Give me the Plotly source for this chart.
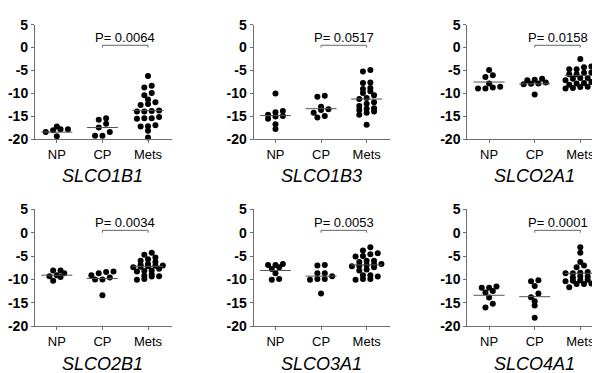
import plotly.graph_objects as go

groups = ["NP", "CP", "Mets"]
genes = ["SLCO1B1", "SLCO1B3", "SLCO2A1", "SLCO2B1", "SLCO3A1", "SLCO4A1"]
p_values = ["P= 0.0064", "P= 0.0517", "P= 0.0158", "P= 0.0034", "P= 0.0053", "P= 0.0001"]

# ---- values ----
slco1b1_np = [-17.8, -18.0, -17.8, -17.2, -18.4, -19.3]
slco1b1_cp = [-16.6, -15.7, -15.4, -17.4, -18.4, -19.2, -19.2]
slco1b1_mets = [-6.2, -8.7, -8.3, -10.4, -9.9, -11.3, -12.5, -11.9, -12.3, -13.7, -13.9,
                -13.8, -13.9, -15.4, -15.1, -15.4, -15.5, -16.9, -17.1, -17.2, -18.1, -19.6]

slco1b3_np = [-10.0, -13.8, -14.1, -14.6, -14.9, -15.0, -15.5, -16.7, -17.7]
slco1b3_cp = [-10.7, -10.5, -12.9, -13.4, -13.6, -14.2, -15.2, -14.9]
slco1b3_mets = [-4.9, -5.2, -7.7, -7.6, -8.8, -9.5, -9.0, -9.9, -10.4, -11.2, -11.0,
                -11.9, -12.2, -12.7, -13.2, -13.3, -13.9, -13.6, -14.6, -14.2, -16.8]

slco2a1_np = [-4.9, -6.4, -6.0, -7.8, -8.5, -8.9, -8.9, -8.7]
slco2a1_cp = [-7.0, -7.1, -6.8, -7.8, -7.9, -8.0, -10.2, -7.6]
slco2a1_mets = [-2.5, -4.1, -4.3, -4.7, -4.7, -5.5, -5.8, -5.4, -5.8, -6.8, -6.4, -6.6,
                -6.6, -7.1, -7.5, -7.8, -7.7, -8.1, -8.5, -8.6, -8.1, -8.8, -8.9]

slco2b1_np = [-8.1, -8.1, -9.1, -8.7, -9.5, -10.3, -9.3]
slco2b1_cp = [-8.3, -8.4, -8.7, -9.1, -9.6, -10.0, -10.0, -13.4]
slco2b1_mets = [-4.3, -4.7, -5.7, -5.3, -6.0, -6.3, -6.7, -6.9, -7.0, -7.2, -7.1, -7.4,
                -7.3, -7.7, -8.1, -8.2, -8.3, -8.9, -9.2, -9.4, -10.1, -9.9, -9.3]

slco3a1_np = [-6.9, -6.7, -6.9, -7.4, -7.8, -8.7, -10.1, -9.9]
slco3a1_cp = [-7.0, -6.9, -8.7, -9.3, -8.7, -9.9, -10.1, -9.9, -13.0]
slco3a1_mets = [-3.1, -3.8, -4.4, -5.0, -5.1, -4.6, -6.0, -6.0, -6.3, -6.7, -6.8, -6.9,
                -7.2, -7.1, -7.4, -8.1, -7.9, -9.1, -9.1, -9.4, -9.9, -10.1, -9.9]

slco4a1_np = [-11.5, -11.8, -11.8, -12.5, -12.8, -13.9, -15.2, -16.0]
slco4a1_cp = [-10.2, -10.4, -11.4, -13.0, -13.8, -14.7, -15.6, -18.2]
slco4a1_mets = [-3.1, -4.3, -6.3, -7.0, -7.4, -8.0, -8.4, -8.6, -8.7, -8.7, -9.4, -9.4,
                -9.6, -9.7, -10.1, -10.3, -10.4, -10.2, -11.0, -10.9, -11.0, -11.7]

medians_slco1b1 = [-18.4, -17.4, -13.7]
medians_slco1b3 = [-14.8, -13.3, -11.2]
medians_slco2a1 = [-7.5, -7.9, -6.1]
medians_slco2b1 = [-9.1, -9.8, -7.2]
medians_slco3a1 = [-8.1, -9.3, -6.9]
medians_slco4a1 = [-13.4, -13.7, -8.7]

y_ticks = [5, 0, -5, -10, -15, -20]

panel_data = [
    [slco1b1_np, slco1b1_cp, slco1b1_mets],
    [slco1b3_np, slco1b3_cp, slco1b3_mets],
    [slco2a1_np, slco2a1_cp, slco2a1_mets],
    [slco2b1_np, slco2b1_cp, slco2b1_mets],
    [slco3a1_np, slco3a1_cp, slco3a1_mets],
    [slco4a1_np, slco4a1_cp, slco4a1_mets],
]
panel_medians = [medians_slco1b1, medians_slco1b3, medians_slco2a1,
                 medians_slco2b1, medians_slco3a1, medians_slco4a1]

# ---- layout geometry (pixels) ----
W, H = 600, 373
col_left = [26, 245, 459]
plot_w = 137
row_top = [9, 202]
row_bot = [129, 324]
title_y = [167, 364]
x_range = [-0.48, 2.52]
y_range = [-20, 5]


def row_scatter(vals, xpx_per_unit, ypx_per_unit, row_h=4.0, max_n=5, step=7.4):
    """Prism-like column scatter: points with close values share a row,
    spread symmetrically around the category centre. Returns offsets (units)."""
    order = sorted(range(len(vals)), key=lambda i: vals[i])
    rows = []
    cur = []
    start = None
    for i in order:
        ypx = vals[i] * ypx_per_unit
        if start is not None and ypx - start < row_h and len(cur) < max_n:
            cur.append(i)
        else:
            if cur:
                rows.append(cur)
            cur = [i]
            start = ypx
    if cur:
        rows.append(cur)
    offs = [0.0] * len(vals)
    for ri, rw in enumerate(rows):
        n = len(rw)
        shift = 0.5 if (n == 1 and ri % 2 == 1 and False) else 0.0
        for k, i in enumerate(rw):
            offs[i] = (k - (n - 1) / 2 + shift) * step / xpx_per_unit
    return offs


fig = go.Figure()
layout = dict(width=W, height=H, margin=dict(l=0, r=0, t=0, b=0),
              paper_bgcolor="white", plot_bgcolor="white", showlegend=False)
annotations = []

axis_col = "#6e6e6e"
font_fam = "Liberation Sans, Arial, sans-serif"

for p in range(6):
    r, c = divmod(p, 3)
    idx = p + 1
    xa = "x" if idx == 1 else f"x{idx}"
    ya = "y" if idx == 1 else f"y{idx}"
    xd = [col_left[c] / W, (col_left[c] + plot_w) / W]
    yd = [1 - row_bot[r] / H, 1 - row_top[r] / H]
    xppu = plot_w / (x_range[1] - x_range[0])
    yppu = (row_bot[r] - row_top[r]) / (y_range[1] - y_range[0])

    layout[f"xaxis{idx if idx > 1 else ''}"] = dict(
        domain=xd, range=x_range, anchor=ya, tickvals=[0, 1, 2], ticktext=groups,
        ticks="outside", ticklen=3, tickcolor=axis_col, showline=True, linecolor=axis_col,
        linewidth=1, showgrid=False, zeroline=False, fixedrange=True,
        tickfont=dict(family=font_fam, size=13, color="black"))
    layout[f"yaxis{idx if idx > 1 else ''}"] = dict(
        domain=yd, range=y_range, anchor=xa, tickvals=y_ticks,
        ticktext=[f"<b>{t}</b>" for t in y_ticks],
        ticks="outside", ticklen=3, tickcolor=axis_col, showline=True, linecolor=axis_col,
        linewidth=1, showgrid=False, zeroline=False, fixedrange=True,
        tickfont=dict(family=font_fam, size=14, color="black"))

    for g in range(3):
        vals = panel_data[p][g]
        offs = row_scatter(vals, xppu, yppu)
        fig.add_trace(go.Scatter(
            x=[g + o for o in offs], y=vals, mode="markers", xaxis=xa, yaxis=ya,
            marker=dict(size=6, color="black"), hoverinfo="y", cliponaxis=False))
        m = panel_medians[p][g]
        fig.add_trace(go.Scatter(
            x=[g - 0.34, g + 0.34], y=[m, m], mode="lines", xaxis=xa, yaxis=ya,
            line=dict(color="#555555", width=1), hoverinfo="skip"))

    # significance bracket CP -> Mets
    fig.add_trace(go.Scatter(
        x=[1, 1, 2, 2], y=[0.0, 0.5, 0.5, 0.0], mode="lines", xaxis=xa, yaxis=ya,
        line=dict(color="#666666", width=1), hoverinfo="skip", cliponaxis=False))
    annotations.append(dict(
        x=1.5, y=2.2, xref=xa, yref=ya, text=p_values[p], showarrow=False,
        xanchor="center", yanchor="middle",
        font=dict(family=font_fam, size=13, color="black")))
    annotations.append(dict(
        x=1, xref=xa, y=1 - title_y[r] / H, yref="paper", text=f"<i>{genes[p]}</i>",
        showarrow=False, xanchor="center", yanchor="middle",
        font=dict(family=font_fam, size=18, color="black")))

layout["annotations"] = annotations
fig.update_layout(**layout)
fig.write_html("out.html")
